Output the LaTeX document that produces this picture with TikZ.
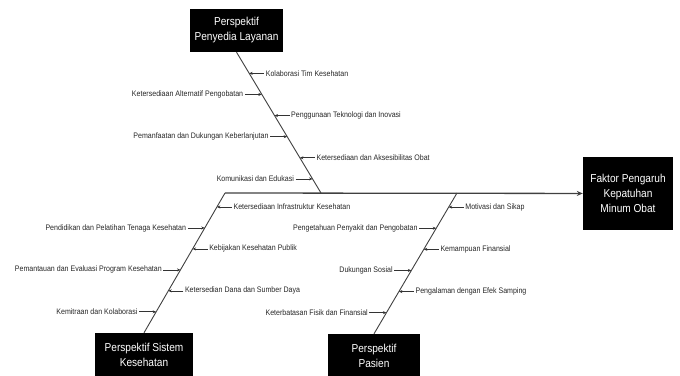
\documentclass[tikz,border=0pt]{standalone}
\usepackage{fontspec}
\setmainfont{Liberation Sans}[FakeStretch=0.88]
\usetikzlibrary{arrows.meta,calc}
\tikzset{
  hdr/.style={fill=black, text=white, align=center, font=\fontsize{11.5}{15}\selectfont, inner sep=2pt},
  lbl/.style={font=\fontsize{8}{9}\selectfont, inner sep=1.5pt, text=black!85},
  bone/.style={draw=black!75, line width=0.9pt},
  sub/.style={draw=black!80, line width=0.7pt, -{Stealth[length=3.5pt,width=3pt]}},
}
\begin{document}
\begin{tikzpicture}[x=1pt,y=-1pt]
\useasboundingbox (0,0) rectangle (680,375);
\node[hdr, minimum width=93, minimum height=43] (pl) at (236.5,30.5){Perspektif\\Penyedia Layanan};
\node[hdr, minimum width=90, minimum height=73] (fk) at (628,193.5){Faktor Pengaruh\\Kepatuhan\\Minum Obat};
\node[hdr, minimum width=98, minimum height=43] (sk) at (144,354.5){Perspektif Sistem\\Kesehatan};
\node[hdr, minimum width=92, minimum height=43] (ps) at (374,355.5){Perspektif\\Pasien};
\coordinate (s0) at (225,193);
\coordinate (s1) at (321,193);
\coordinate (s2) at (457,193);
\draw[bone, line width=1.3pt, -{Stealth[length=6pt,width=5pt]}] (s0) -- (fk);
\draw[bone] (pl.south) -- (s1);
\draw[bone] (s0) -- (sk.north);
\draw[bone] (s2) -- (ps.north);
% penyedia layanan
\coordinate (a1) at ($(pl.south)!0.15!(s1)$);
\node[lbl, anchor=west] (ta1) at ($(a1)+(15,0)$){Kolaborasi Tim Kesehatan};
\draw[sub] (ta1) -- (a1);
\coordinate (a2) at ($(pl.south)!0.3!(s1)$);
\node[lbl, anchor=east] (ta2) at ($(a2)+(-17,0)$){Ketersediaan Alternatif Pengobatan};
\draw[sub] (ta2) -- (a2);
\coordinate (a3) at ($(pl.south)!0.45!(s1)$);
\node[lbl, anchor=west] (ta3) at ($(a3)+(15,0)$){Penggunaan Teknologi dan Inovasi};
\draw[sub] (ta3) -- (a3);
\coordinate (a4) at ($(pl.south)!0.6!(s1)$);
\node[lbl, anchor=east] (ta4) at ($(a4)+(-17,0)$){Pemanfaatan dan Dukungan Keberlanjutan};
\draw[sub] (ta4) -- (a4);
\coordinate (a5) at ($(pl.south)!0.75!(s1)$);
\node[lbl, anchor=west] (ta5) at ($(a5)+(15,0)$){Ketersediaan dan Aksesibilitas Obat};
\draw[sub] (ta5) -- (a5);
\coordinate (a6) at ($(pl.south)!0.9!(s1)$);
\node[lbl, anchor=east] (ta6) at ($(a6)+(-17,0)$){Komunikasi dan Edukasi};
\draw[sub] (ta6) -- (a6);
% sistem kesehatan
\coordinate (b1) at ($(s0)!0.1!(sk.north)$);
\node[lbl, anchor=west] (tb1) at ($(b1)+(15,0)$){Ketersediaan Infrastruktur Kesehatan};
\draw[sub] (tb1) -- (b1);
\coordinate (b2) at ($(s0)!0.25!(sk.north)$);
\node[lbl, anchor=east] (tb2) at ($(b2)+(-17,0)$){Pendidikan dan Pelatihan Tenaga Kesehatan};
\draw[sub] (tb2) -- (b2);
\coordinate (b3) at ($(s0)!0.4!(sk.north)$);
\node[lbl, anchor=west] (tb3) at ($(b3)+(15,0)$){Kebijakan Kesehatan Publik};
\draw[sub] (tb3) -- (b3);
\coordinate (b4) at ($(s0)!0.55!(sk.north)$);
\node[lbl, anchor=east] (tb4) at ($(b4)+(-17,0)$){Pemantauan dan Evaluasi Program Kesehatan};
\draw[sub] (tb4) -- (b4);
\coordinate (b5) at ($(s0)!0.7!(sk.north)$);
\node[lbl, anchor=west] (tb5) at ($(b5)+(15,0)$){Ketersedian Dana dan Sumber Daya};
\draw[sub] (tb5) -- (b5);
\coordinate (b6) at ($(s0)!0.85!(sk.north)$);
\node[lbl, anchor=east] (tb6) at ($(b6)+(-17,0)$){Kemitraan dan Kolaborasi};
\draw[sub] (tb6) -- (b6);
% pasien
\coordinate (c1) at ($(s2)!0.1!(ps.north)$);
\node[lbl, anchor=west] (tc1) at ($(c1)+(15,0)$){Motivasi dan Sikap};
\draw[sub] (tc1) -- (c1);
\coordinate (c2) at ($(s2)!0.25!(ps.north)$);
\node[lbl, anchor=east] (tc2) at ($(c2)+(-17,0)$){Pengetahuan Penyakit dan Pengobatan};
\draw[sub] (tc2) -- (c2);
\coordinate (c3) at ($(s2)!0.4!(ps.north)$);
\node[lbl, anchor=west] (tc3) at ($(c3)+(15,0)$){Kemampuan Finansial};
\draw[sub] (tc3) -- (c3);
\coordinate (c4) at ($(s2)!0.55!(ps.north)$);
\node[lbl, anchor=east] (tc4) at ($(c4)+(-17,0)$){Dukungan Sosial};
\draw[sub] (tc4) -- (c4);
\coordinate (c5) at ($(s2)!0.7!(ps.north)$);
\node[lbl, anchor=west] (tc5) at ($(c5)+(15,0)$){Pengalaman dengan Efek Samping};
\draw[sub] (tc5) -- (c5);
\coordinate (c6) at ($(s2)!0.85!(ps.north)$);
\node[lbl, anchor=east] (tc6) at ($(c6)+(-17,0)$){Keterbatasan Fisik dan Finansial};
\draw[sub] (tc6) -- (c6);
\end{tikzpicture}
\end{document}
